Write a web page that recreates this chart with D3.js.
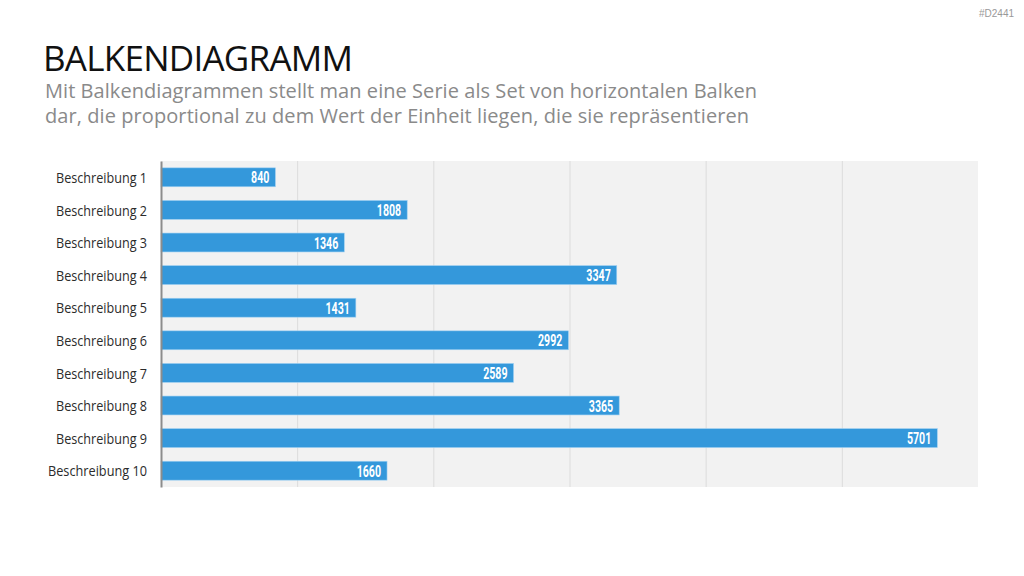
<!DOCTYPE html>
<html><head><meta charset="utf-8">
<script src="https://cdn.jsdelivr.net/npm/d3@7"></script>
<style>body{margin:0;background:#fff}svg{display:block}</style>
</head><body>
<svg id="c" width="1024" height="576"></svg>
<script>
const categories = ["Beschreibung 1","Beschreibung 2","Beschreibung 3","Beschreibung 4","Beschreibung 5","Beschreibung 6","Beschreibung 7","Beschreibung 8","Beschreibung 9","Beschreibung 10"];
const values = [840,1808,1346,3347,1431,2992,2589,3365,5701,1660];
const xTicks = [0,1000,2000,3000,4000,5000,6000];

const svg = d3.select("#c");
const m = {l:161, r:978, t:161, b:487};
const x = d3.scaleLinear().domain([0,6000]).range([m.l, m.r]);
const y = d3.scaleBand().domain(categories).range([m.t, m.b]).paddingInner(0.42).paddingOuter(0.21);

svg.append("text").attr("x",1014).attr("y",17).attr("text-anchor","end")
  .attr("font-family","Liberation Sans, sans-serif").attr("font-size",10).attr("fill","#999").text("#D2441");
svg.append("text").attr("x",43).attr("y",71)
  .attr("font-family","Open Sans, sans-serif").attr("font-size",35).attr("fill","#111").attr("textLength",310).text("BALKENDIAGRAMM");
const sub = ["Mit Balkendiagrammen stellt man eine Serie als Set von horizontalen Balken","dar, die proportional zu dem Wert der Einheit liegen, die sie repräsentieren"];
const subLen = [712, 704];
sub.forEach((s,i)=>svg.append("text").attr("x",45).attr("y",98+i*25)
  .attr("font-family","Open Sans, sans-serif").attr("font-size",20).attr("fill","#8a8a8a").attr("textLength",subLen[i]).text(s));

svg.append("rect").attr("x",m.l).attr("y",m.t).attr("width",m.r-m.l).attr("height",m.b-m.t).attr("fill","#f2f2f2");

const xAxis = d3.axisBottom(x).tickValues(xTicks.slice(1,-1)).tickSize(-(m.b-m.t)).tickFormat("");
const gx = svg.append("g").attr("transform",`translate(0,${m.b})`).call(xAxis);
gx.select(".domain").remove();
gx.selectAll("line").attr("stroke","#dcdcdc").attr("stroke-width",1);

svg.selectAll("rect.bar").data(values).join("rect").attr("class","bar")
  .attr("x",x(0)).attr("y",(d,i)=>y(categories[i])).attr("width",d=>x(d)-x(0)).attr("height",y.bandwidth())
  .attr("fill","#3498db").attr("stroke","#9fd0f2").attr("stroke-width",0.6);

svg.selectAll("text.val").data(values).join("text").attr("class","val")
  .attr("x",d=>x(d)-6).attr("y",(d,i)=>y(categories[i])+y.bandwidth()/2+6)
  .attr("text-anchor","end").attr("font-family","Roboto, sans-serif")
  .attr("font-weight","bold").attr("font-size",16.5).attr("fill","#fff")
  .attr("textLength",d=>String(d).length*6.1).attr("lengthAdjust","spacingAndGlyphs").text(d=>d);

const yAxis = d3.axisLeft(y).tickSize(0).tickPadding(14);
const gy = svg.append("g").attr("transform",`translate(${m.l},0)`).call(yAxis);
gy.select(".domain").attr("stroke","#8c8c8c").attr("stroke-width",2);
gy.selectAll("text").attr("font-family","Open Sans, sans-serif").attr("font-weight",400).attr("font-size",14).attr("fill","#2b2b2b").attr("dy","0.4em")
  .attr("textLength",d=>d.length===15?99:91).attr("lengthAdjust","spacingAndGlyphs");
</script>
</body></html>
